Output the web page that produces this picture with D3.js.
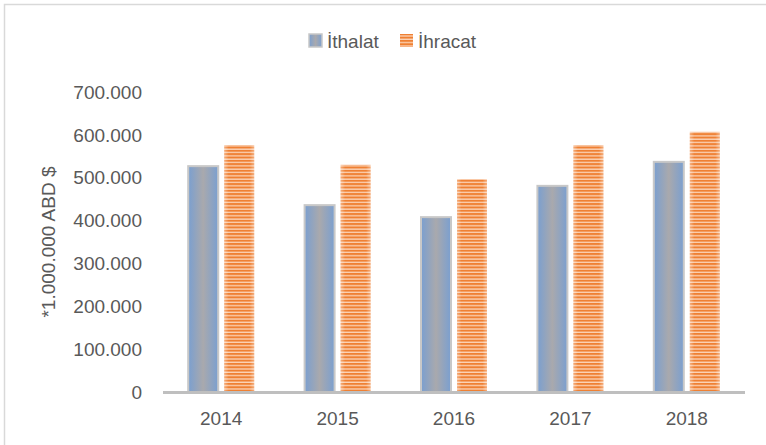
<!DOCTYPE html>
<html>
<head>
<meta charset="utf-8">
<script src="https://cdn.jsdelivr.net/npm/d3@7"></script>
<style>
  body { margin: 0; background: #fff; }
  text { font-family: "Liberation Sans", Arial, sans-serif; fill: #595959; }
</style>
</head>
<body>
<svg id="chart"></svg>
<script>
const years = ["2014", "2015", "2016", "2017", "2018"];
const seriesNames = ["İthalat", "İhracat"];
const ithalat = [527000, 436000, 408000, 481000, 537000];
const ihracat = [576000, 530000, 497000, 576000, 607000];
const yTicks = [0, 100000, 200000, 300000, 400000, 500000, 600000, 700000];

const width = 766, height = 445;
const margin = { top: 92, right: 21, bottom: 53, left: 163 };

var svg = d3.select("#chart").attr("width", width).attr("height", height);

var defs = svg.append("defs");

// grey-blue gradient for imports
var grad = defs.append("linearGradient").attr("id", "imp-grad");
grad.append("stop").attr("offset", "0%").attr("stop-color", "#7a9fd0");
grad.append("stop").attr("offset", "50%").attr("stop-color", "#a9a9ad");
grad.append("stop").attr("offset", "100%").attr("stop-color", "#7a9fd0");

// horizontal orange stripes for exports
var pat = defs.append("pattern")
  .attr("id", "exp-stripes")
  .attr("patternUnits", "userSpaceOnUse")
  .attr("width", 10)
  .attr("height", 3.33);
pat.append("rect").attr("width", 10).attr("height", 3.33).attr("fill", "#fbd3b6");
pat.append("rect").attr("width", 10).attr("height", 2).attr("fill", "#ef8033");

var fade = defs.append("linearGradient").attr("id", "exp-fade");
fade.append("stop").attr("offset", "0%").attr("stop-color", "#fff").attr("stop-opacity", 0.35);
fade.append("stop").attr("offset", "15%").attr("stop-color", "#fff").attr("stop-opacity", 0);
fade.append("stop").attr("offset", "85%").attr("stop-color", "#fff").attr("stop-opacity", 0);
fade.append("stop").attr("offset", "100%").attr("stop-color", "#fff").attr("stop-opacity", 0.35);

// outer frame
svg.append("rect")
  .attr("x", 4.5).attr("y", 4.5)
  .attr("width", width + 10).attr("height", height + 10)
  .attr("fill", "none")
  .attr("stroke", "#d9d9d9")
  .attr("stroke-width", 1.5);

var x = d3.scaleBand()
  .domain(years)
  .range([margin.left, width - margin.right]);

var y = d3.scaleLinear()
  .domain([0, 700000])
  .range([height - margin.bottom, margin.top]);

var barW = 30, gap = 6;
var fmt = function (d) {
  return d === 0 ? "0" : d3.format(",.0f")(d).replace(/,/g, ".");
};

// y tick labels
svg.append("g")
  .selectAll("text")
  .data(yTicks)
  .enter()
  .append("text")
  .attr("x", 142)
  .attr("y", function (d) { return y(d); })
  .attr("dy", "0.35em")
  .attr("text-anchor", "end")
  .attr("font-size", "19px")
  .text(fmt);

// y axis title
svg.append("text")
  .attr("transform", "translate(55," + 242 + ") rotate(-90)")
  .attr("text-anchor", "middle")
  .attr("font-size", "19px")
  .text("*1.000.000 ABD $");

// import bars
svg.append("g")
  .selectAll("rect")
  .data(ithalat)
  .enter()
  .append("rect")
  .attr("x", function (d, i) { return x(years[i]) + x.bandwidth() / 2 - gap / 2 - barW; })
  .attr("y", function (d) { return y(d); })
  .attr("width", barW)
  .attr("height", function (d) { return y(0) - y(d); })
  .attr("fill", "url(#imp-grad)")
  .attr("stroke", "#c8c8c8")
  .attr("stroke-width", 2);

// export bars
var exp = svg.append("g");
exp.selectAll("rect.stripe")
  .data(ihracat)
  .enter()
  .append("rect")
  .attr("class", "stripe")
  .attr("x", function (d, i) { return x(years[i]) + x.bandwidth() / 2 + gap / 2; })
  .attr("y", function (d) { return y(d); })
  .attr("width", barW)
  .attr("height", function (d) { return y(0) - y(d); })
  .attr("fill", "url(#exp-stripes)");
exp.selectAll("rect.fade")
  .data(ihracat)
  .enter()
  .append("rect")
  .attr("class", "fade")
  .attr("x", function (d, i) { return x(years[i]) + x.bandwidth() / 2 + gap / 2; })
  .attr("y", function (d) { return y(d); })
  .attr("width", barW)
  .attr("height", function (d) { return y(0) - y(d); })
  .attr("fill", "url(#exp-fade)");

// baseline
svg.append("line")
  .attr("x1", margin.left).attr("x2", width - margin.right)
  .attr("y1", y(0) + 0.5).attr("y2", y(0) + 0.5)
  .attr("stroke", "#bfbfbf")
  .attr("stroke-width", 3);

// x labels
svg.append("g")
  .selectAll("text")
  .data(years)
  .enter()
  .append("text")
  .attr("x", function (d) { return x(d) + x.bandwidth() / 2; })
  .attr("y", 425)
  .attr("text-anchor", "middle")
  .attr("font-size", "19px")
  .text(function (d) { return d; });

// legend
var legend = svg.append("g");
var legendX = [309, 400];
legend.selectAll("rect")
  .data(seriesNames)
  .enter()
  .append("rect")
  .attr("x", function (d, i) { return legendX[i]; })
  .attr("y", 34)
  .attr("width", 13)
  .attr("height", 13)
  .attr("fill", function (d, i) { return i === 0 ? "url(#imp-grad)" : "url(#exp-stripes)"; })
  .attr("stroke", function (d, i) { return i === 0 ? "#c8c8c8" : "none"; })
  .attr("stroke-width", 1.5);
legend.selectAll("text")
  .data(seriesNames)
  .enter()
  .append("text")
  .attr("x", function (d, i) { return legendX[i] + 18; })
  .attr("y", 48)
  .attr("font-size", "19px")
  .text(function (d) { return d; });
</script>
</body>
</html>
